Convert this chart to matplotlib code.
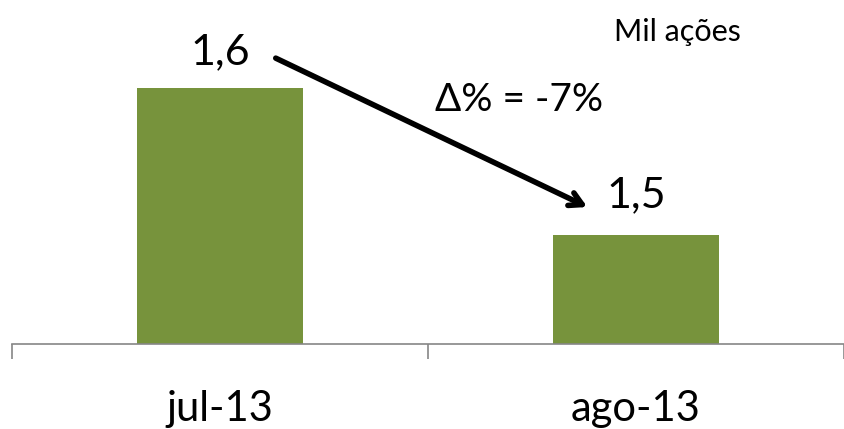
import numpy as np
import matplotlib.pyplot as plt

plt.rcParams['font.family'] = ['Lato', 'DejaVu Sans']

meses = ['jul-13', 'ago-13']
valores = [1.6, 1.5]
rotulos = ['1,6', '1,5']
variacao = 'Δ% = -7%'
unidade = 'Mil ações'

fig = plt.figure(figsize=(8.44, 4.29), dpi=100)
ax = fig.add_axes([12 / 844, 85 / 429, 1 - 12 / 844, 344 / 429])

x = np.arange(len(meses))
ax.bar(x, valores, width=0.4, color='#77933C')
ax.set_xlim(-0.5, 1.49)
ax.set_ylim(1.4257, 1.66)

for s in ['top', 'right', 'left']:
    ax.spines[s].set_visible(False)
ax.spines['bottom'].set_color('#868686')
ax.spines['bottom'].set_linewidth(1.2)
ax.set_yticks([])

ax.set_xticks(x)
ax.set_xticklabels(meses, fontsize=30)
ax.tick_params(axis='x', which='major', length=0, pad=33)
ax.set_xticks([-0.5, 0.5, 1.5], minor=True)
ax.tick_params(axis='x', which='minor', length=11, color='#868686', width=1.2)

# rótulos dos valores
ax.text(x[0], 1.6245, rotulos[0], ha='center', va='center', fontsize=31)
ax.text(x[1], 1.527, rotulos[1], ha='center', va='center', fontsize=31)

# seta de variação
ax.annotate('', xy=(0.883, 1.519), xytext=(0.134, 1.6204),
            arrowprops=dict(arrowstyle='->, head_length=0.9, head_width=0.5',
                            lw=4, color='black', shrinkA=0, shrinkB=0))
ax.text(0.718, 1.5918, variacao, ha='center', va='center', fontsize=28)

fig.text(677 / 844, 1 - 32 / 429, unidade, ha='center', va='center', fontsize=22)

fig.savefig('out.png', dpi=100)
